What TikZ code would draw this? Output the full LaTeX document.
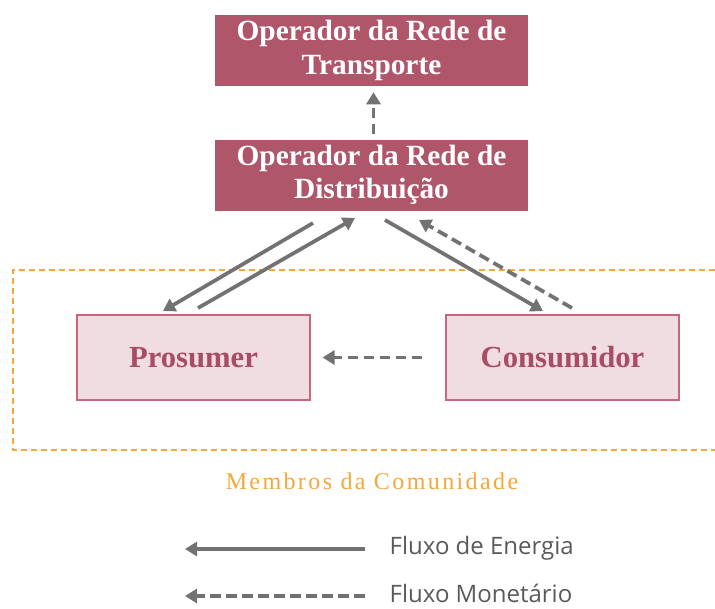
\documentclass[tikz,border=0pt]{standalone}
\usepackage{fontspec}
\setmainfont{Liberation Serif}
\newfontfamily\legfont{Open Sans}
\usetikzlibrary{arrows.meta,calc}
\definecolor{darkbox}{HTML}{B0566B}
\definecolor{lightbox}{HTML}{F0DDE1}
\definecolor{lightborder}{HTML}{C7677F}
\definecolor{lighttext}{HTML}{A84D63}
\definecolor{arrowgray}{HTML}{727272}
\definecolor{legendgray}{HTML}{5A5A5A}
\definecolor{commorange}{HTML}{F7A63A}
\begin{document}
\begin{tikzpicture}[x=0.75pt,y=-0.75pt,
  darknode/.style={fill=darkbox,draw=none,text=white,font=\bfseries\fontsize{22}{25}\selectfont,align=center,minimum width=313*0.75pt,minimum height=71*0.75pt,inner sep=0pt},
  lightnode/.style={fill=lightbox,draw=lightborder,line width=0.8pt,text=lighttext,font=\bfseries\fontsize{23}{27}\selectfont,minimum width=233*0.75pt,minimum height=85*0.75pt,inner sep=0pt},
  energy/.style={draw=arrowgray,line width=2.8pt,-{Triangle[length=9pt,width=10.5pt]}},
  money/.style={energy,dash pattern=on 8pt off 4pt},
  legtext/.style={anchor=west,text=legendgray,font=\legfont\fontsize{18}{21}\selectfont}]
\useasboundingbox (0,0) rectangle (715,608);
% boxes
\node[darknode] (trans) at (371.5,50.5) {Operador da Rede de\\Transporte};
\node[darknode] (dist) at (371.5,175) {Operador da Rede de\\Distribuição};
\node[lightnode] (pros) at (193.5,357.5) {Prosumer};
\node[lightnode] (cons) at (562.5,357.5) {Consumidor};
% community frame
\draw[commorange,line width=2pt,dash pattern=on 4.5pt off 3pt] (715,270) -- (13,270) -- (13,450) -- (715,450);
\node[text=commorange,font=\fontsize{18}{21}\selectfont\addfontfeature{LetterSpace=10}] (memb) at (372,481) {Membros da Comunidade};
% connectors
\coordinate (a1s) at (313,223);
\coordinate (a1e) at (163,311);
\coordinate (a2s) at (198,308);
\coordinate (a2e) at (355,218);
\coordinate (a3s) at (385,220);
\coordinate (a3e) at (543,311);
\coordinate (a4s) at (572,308);
\coordinate (a4e) at (419,220);
\draw[energy] (a1s) -- (a1e);
\draw[energy] (a2s) -- (a2e);
\draw[energy] (a3s) -- (a3e);
\draw[money] (a4s) -- (a4e);
\draw[money] ($(cons.west)+(-23,0)$) -- ($(pros.east)+(12,0)$);
\draw[money] ($(dist.north)+(2,-5)$) -- ($(trans.south)+(2,6)$);
% legend
\node[legtext] (le) at (385,548) {Fluxo de Energia};
\node[legtext] (lm) at (385,593) {Fluxo Monetário};
\draw[energy] ($(le.west)+(-20,1)$) -- ++(-180,0);
\draw[money] ($(lm.west)+(-20,3)$) -- ++(-180,0);
\end{tikzpicture}
\end{document}
